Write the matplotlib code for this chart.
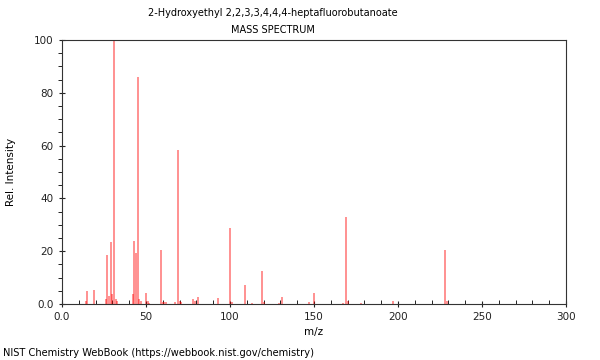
import matplotlib
matplotlib.use("Agg")
import matplotlib.pyplot as plt
from matplotlib.ticker import MultipleLocator

title = "2-Hydroxyethyl 2,2,3,3,4,4,4-heptafluorobutanoate"
mz = [14, 15, 19, 26, 27, 28, 29, 30, 31, 32, 33, 42, 43, 44, 45, 46, 47,
      50, 51, 52, 59, 60, 61, 62, 67, 69, 70, 71, 78, 79, 81, 93, 100, 101,
      109, 113, 119, 120, 129, 131, 147, 150, 167, 169, 170, 178, 197, 228, 229]
intensity = [1.0, 5.0, 5.2, 2.0, 18.4, 3.2, 23.4, 3.8, 100.0, 2.0, 1.0, 3.8, 23.9, 19.2, 86.1, 2.0, 1.0,
             4.0, 1.0, 0.5, 20.6, 0.8, 0.8, 0.8, 0.8, 58.2, 1.0, 0.8, 1.8, 1.0, 2.6, 2.3, 28.7, 0.8,
             7.2, 0.5, 12.5, 0.6, 0.5, 2.5, 0.8, 4.2, 0.5, 32.8, 1.0, 0.3, 1.1, 20.5, 1.0]

fig = plt.figure(figsize=(6, 3.6), dpi=100)
ax = fig.add_axes([62/600, 56/360, 504/600, 264/360])
ax.vlines(mz, 0, intensity, colors="#ff0000", linewidth=1.1, alpha=0.55)
ax.set_xlim(0, 300)
ax.set_ylim(0, 100)
ax.xaxis.set_major_locator(MultipleLocator(50))
ax.xaxis.set_minor_locator(MultipleLocator(10))
ax.yaxis.set_major_locator(MultipleLocator(20))
ax.yaxis.set_minor_locator(MultipleLocator(5))
ax.set_xticks([0, 50, 100, 150, 200, 250, 300], ["0.0", "50", "100", "150", "200", "250", "300"])
ax.set_yticks([0, 20, 40, 60, 80, 100], ["0.0", "20", "40", "60", "80", "100"])
ax.tick_params(axis="both", which="major", direction="inout", length=5, width=0.8, labelsize=7.5, colors="#222222")
ax.tick_params(axis="x", which="minor", direction="in", length=3, width=0.6)
ax.tick_params(axis="y", which="minor", direction="out", length=3, width=0.6)
for s in ax.spines.values():
    s.set_linewidth(0.8)
    s.set_color("#333333")
ax.set_xlabel("m/z", fontsize=7.5)
ax.set_ylabel("Rel. Intensity", fontsize=7.5)
ax.xaxis.set_label_coords((314 - 62) / 504, -(327 - 304) / 264)
ax.yaxis.set_label_coords(-(62 - 16) / 504, 0.5)
fig.text(273/600, 1 - 13/360, title, ha="center", va="center", fontsize=7.05)
fig.text(273/600, 1 - 30/360, "MASS SPECTRUM", ha="center", va="center", fontsize=7.05)
fig.text(3/600, 1 - 353/360, "NIST Chemistry WebBook (https://webbook.nist.gov/chemistry)", ha="left", va="center", fontsize=7.1)
fig.savefig("out.png", dpi=100)
